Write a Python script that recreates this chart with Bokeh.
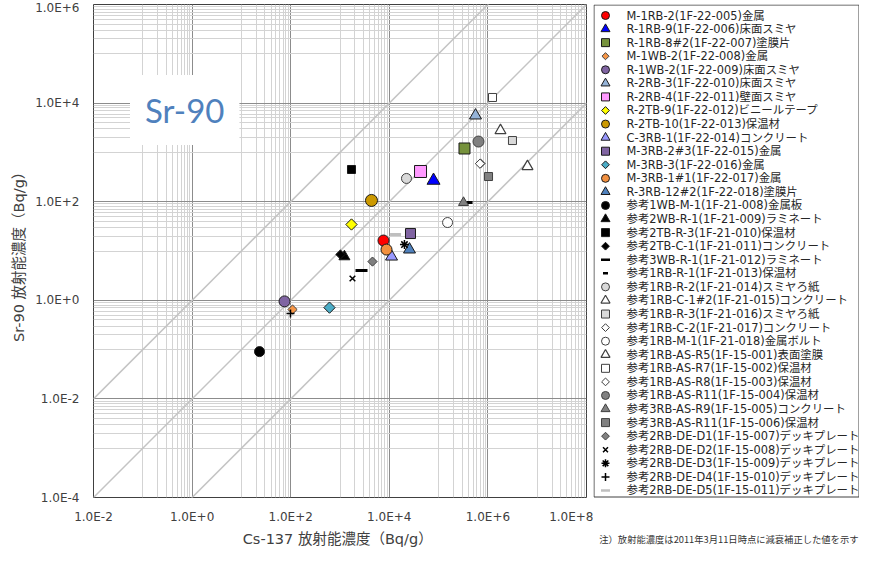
import numpy as np
from bokeh.plotting import figure
from bokeh.layouts import row
from bokeh.models import (Label, FixedTicker, CustomJSTickFormatter, Range1d,
                          ColumnDataSource)
from bokeh.core.properties import value
from bokeh.embed import file_html
from bokeh.resources import INLINE

# ---------------- data ----------------
names = [
    "M-1RB-2(1F-22-005)金属",
    "R-1RB-9(1F-22-006)床面スミヤ",
    "R-1RB-8#2(1F-22-007)塗膜片",
    "M-1WB-2(1F-22-008)金属",
    "R-1WB-2(1F-22-009)床面スミヤ",
    "R-2RB-3(1F-22-010)床面スミヤ",
    "R-2RB-4(1F-22-011)壁面スミヤ",
    "R-2TB-9(1F-22-012)ビニールテープ",
    "R-2TB-10(1F-22-013)保温材",
    "C-3RB-1(1F-22-014)コンクリート",
    "M-3RB-2#3(1F-22-015)金属",
    "M-3RB-3(1F-22-016)金属",
    "M-3RB-1#1(1F-22-017)金属",
    "R-3RB-12#2(1F-22-018)塗膜片",
    "参考1WB-M-1(1F-21-008)金属板",
    "参考2WB-R-1(1F-21-009)ラミネート",
    "参考2TB-R-3(1F-21-010)保温材",
    "参考2TB-C-1(1F-21-011)コンクリート",
    "参考3WB-R-1(1F-21-012)ラミネート",
    "参考1RB-R-1(1F-21-013)保温材",
    "参考1RB-R-2(1F-21-014)スミヤろ紙",
    "参考1RB-C-1#2(1F-21-015)コンクリート",
    "参考1RB-R-3(1F-21-016)スミヤろ紙",
    "参考1RB-C-2(1F-21-017)コンクリート",
    "参考1RB-M-1(1F-21-018)金属ボルト",
    "参考1RB-AS-R5(1F-15-001)表面塗膜",
    "参考1RB-AS-R7(1F-15-002)保温材",
    "参考1RB-AS-R8(1F-15-003)保温材",
    "参考1RB-AS-R11(1F-15-004)保温材",
    "参考3RB-AS-R9(1F-15-005)コンクリート",
    "参考3RB-AS-R11(1F-15-006)保温材",
    "参考2RB-DE-D1(1F-15-007)デッキプレート",
    "参考2RB-DE-D2(1F-15-008)デッキプレート",
    "参考2RB-DE-D3(1F-15-009)デッキプレート",
    "参考2RB-DE-D4(1F-15-010)デッキプレート",
    "参考2RB-DE-D5(1F-15-011)デッキプレート",
]

cs137 = [7620, 78900, 335000, 109, 75, 560000, 43000, 1710, 4350, 11100,
         26900, 612, 8770, 25700,
         23.3, 1230, 1710, 1020, 2730, 424000, 22300, 1.8e6, 3.15e6, 708000,
         152000, 6.35e6, 1.24e6, 690000, 644000, 320000, 1.03e6, 4560, 1790,
         20300, 99, 13400]

sr90 = [16.3, 269, 1200, 0.65, 0.95, 5600, 410, 34.5, 106, 7.7,
        22.6, 0.71, 10.7, 10.7,
        0.091, 7.7, 450, 8.5, 4.0, 96, 296, 2780, 1740, 596,
        37.8, 518, 13000, 590, 1660, 96, 324, 6.1, 2.77,
        13.5, 0.54, 21.6]

x_major = [1e-2, 1e0, 1e2, 1e4, 1e6, 1e8]
y_major = [1e-4, 1e-2, 1e0, 1e2, 1e4, 1e6]
diag_ratios = [1.0, 1e-2, 1e-4]

x_title = "Cs-137  放射能濃度（Bq/g）"
y_title = "Sr-90  放射能濃度（Bq/g）"
note = "注）放射能濃度は2011年3月11日時点に減衰補正した値を示す"

# ---------------- styles ----------------
D = np.pi / 4
K = "#1a1a1a"
G = "#404040"
styles = [
    # marker, plot size, fill, line, line_width, angle, legend size
    ("circle", 11, "#ff0000", K, 1, 0, 8),
    ("triangle", 13, "#0000ff", K, 1, 0, 9),
    ("square", 11, "#76923c", K, 1, 0, 8),
    ("square", 6.5, "#f79646", G, 1, D, 5),
    ("circle", 11, "#8064a2", K, 1, 0, 8),
    ("triangle", 12, "#95b3d7", K, 1, 0, 9),
    ("square", 12, "#ff99ff", K, 1, 0, 8),
    ("square", 8, "#ffff00", K, 1, D, 5.5),
    ("circle", 12, "#cc9900", K, 1, 0, 8),
    ("triangle", 12, "#9999ff", K, 1, 0, 9),
    ("square", 10, "#8064a2", K, 1, 0, 8),
    ("square", 8, "#4bacc6", K, 1, D, 5.5),
    ("circle", 11, "#f2903f", K, 1, 0, 8),
    ("triangle", 12, "#4f81bd", K, 1, 0, 9),
    ("circle", 10, "#000000", K, 1, 0, 8),
    ("triangle", 11, "#000000", K, 1, 0, 9),
    ("square", 8, "#000000", K, 1, 0, 8),
    ("square", 6.5, "#000000", K, 1, D, 5.5),
    ("dash", 12, None, "#000000", 3, 0, 9),
    ("dash", 6, None, "#000000", 3, 0, 5),
    ("circle", 10, "#d9d9d9", G, 1, 0, 8),
    ("triangle", 11, "#ffffff", G, 1.2, 0, 9),
    ("square", 8, "#d9d9d9", G, 1, 0, 8),
    ("square", 6.5, "#ffffff", G, 1, D, 5.5),
    ("circle", 10, "#ffffff", G, 1, 0, 8),
    ("triangle", 11, "#ffffff", G, 1.2, 0, 9),
    ("square", 8, "#ffffff", G, 1, 0, 8),
    ("square", 6.5, "#ffffff", G, 1, D, 5.5),
    ("circle", 11, "#808080", G, 1, 0, 8),
    ("triangle", 10, "#808080", G, 1, 0, 9),
    ("square", 8, "#808080", G, 1, 0, 8),
    ("square", 6.5, "#808080", G, 1, D, 5.5),
    ("x", 8, None, "#000000", 1.5, 0, 7),
    ("asterisk", 9, None, "#000000", 1.5, 0, 8),
    ("cross", 8, None, "#000000", 1.5, 0, 8),
    ("dash", 11, None, "#bfbfbf", 3, 0, 9),
]

FONT = "'DejaVu Sans', 'Noto Sans CJK JP'"
TXT = "#404040"
H = 549

# ---------------- main plot (fixed outer size) ----------------
p = figure(x_axis_type="log", y_axis_type="log",
           x_range=Range1d(x_major[0], x_major[-1]),
           y_range=Range1d(y_major[0], y_major[-1]),
           width=593, height=H, title=None,
           min_border_left=93, min_border_top=4,
           min_border_right=7, min_border_bottom=52,
           output_backend="svg", toolbar_location=None)

def minors(major):
    out = []
    for a in major[:-1]:
        base = a * 10
        out += [m * base for m in range(1, 10)]
    return out

p.xaxis.ticker = FixedTicker(ticks=x_major, minor_ticks=minors(x_major))
p.yaxis.ticker = FixedTicker(ticks=y_major, minor_ticks=minors(y_major))
fmt = CustomJSTickFormatter(code="return tick.toExponential(1).toUpperCase();")
for ax in (p.xaxis[0], p.yaxis[0]):
    ax.formatter = fmt
    ax.major_tick_line_color = None
    ax.minor_tick_line_color = None
    ax.axis_line_color = None
    ax.major_label_text_font = FONT
    ax.major_label_text_font_size = "12px"
    ax.major_label_text_color = TXT
    ax.axis_label_text_font = FONT
    ax.axis_label_text_font_size = "14.5px"
    ax.axis_label_text_font_style = "normal"
    ax.axis_label_text_color = TXT
p.yaxis.major_label_standoff = 8
p.yaxis.axis_label_standoff = 5
p.xaxis.major_label_standoff = 6
p.xaxis.axis_label_standoff = 4
p.xaxis.axis_label = x_title
p.yaxis.axis_label = y_title

for g in (p.xgrid[0], p.ygrid[0]):
    g.grid_line_color = "#8c8c8c"
    g.grid_line_width = 1
    g.minor_grid_line_color = "#d3d3d3"
    g.minor_grid_line_width = 1

p.outline_line_color = "#404040"
p.outline_line_width = 1
p.background_fill_color = "white"
p.border_fill_color = "white"

xl = [x_major[0], x_major[-1]]
for r in diag_ratios:
    p.line(xl, [v * r for v in xl], line_color="#c4c4c4", line_width=1.5)

for xv, yv, st in zip(cs137, sr90, styles):
    marker, size, fill, line, lw, ang, _ = st
    p.scatter(x=[xv], y=[yv], marker=marker, size=size, fill_color=fill,
              line_color=line, line_width=lw, angle=ang)

p.add_layout(Label(x=10 ** -0.15, y=10 ** 3.86, text="Sr-90",
                   text_font="Lato", text_font_size="33px",
                   text_color="#4f81bd", text_align="center",
                   text_baseline="middle", background_fill_color="white",
                   padding=15))

# ---------------- legend panel (fixed frame, drawn as its own plot) ----------------
LW = 266
lg = figure(frame_width=LW, frame_height=H, title=None,
            x_range=Range1d(0, LW), y_range=Range1d(H, 0),
            min_border=0, min_border_left=0, min_border_right=0,
            min_border_top=0, min_border_bottom=0,
            x_axis_location=None, y_axis_location=None,
            output_backend="svg", toolbar_location=None)
lg.grid.visible = False
lg.outline_line_color = None
lg.background_fill_color = "white"
lg.border_fill_color = "white"

lg.quad(left=[0.5], right=[LW - 0.5], top=[0.5], bottom=[492.5],
        fill_color="white", line_color="#404040", line_width=1)

row_top, row_step = 11.0, 13.57
ys = [row_top + i * row_step for i in range(len(names))]
for yv, st in zip(ys, styles):
    marker, size, fill, line, lw, ang, lsize = st
    lg.scatter(x=[12], y=[yv], marker=marker, size=lsize, fill_color=fill,
               line_color=line, line_width=min(lw, 2.5) if marker == "dash" else lw,
               angle=ang)

lg.text(x="x", y="y", text="t",
        source=ColumnDataSource(dict(x=[33] * len(names), y=ys, t=names)),
        text_font=value(FONT), text_font_size=value("11.4px"),
        text_color="#262626", text_baseline="middle", text_align="left")

lg.text(x=[LW - 1], y=[534], text=[note], text_font=value("Noto Sans CJK JP"),
        text_font_size=value("9.3px"), text_color="#333333",
        text_baseline="middle", text_align="right")

layout = row(p, lg, spacing=0)
open("out.html", "w").write(file_html(layout, INLINE))
